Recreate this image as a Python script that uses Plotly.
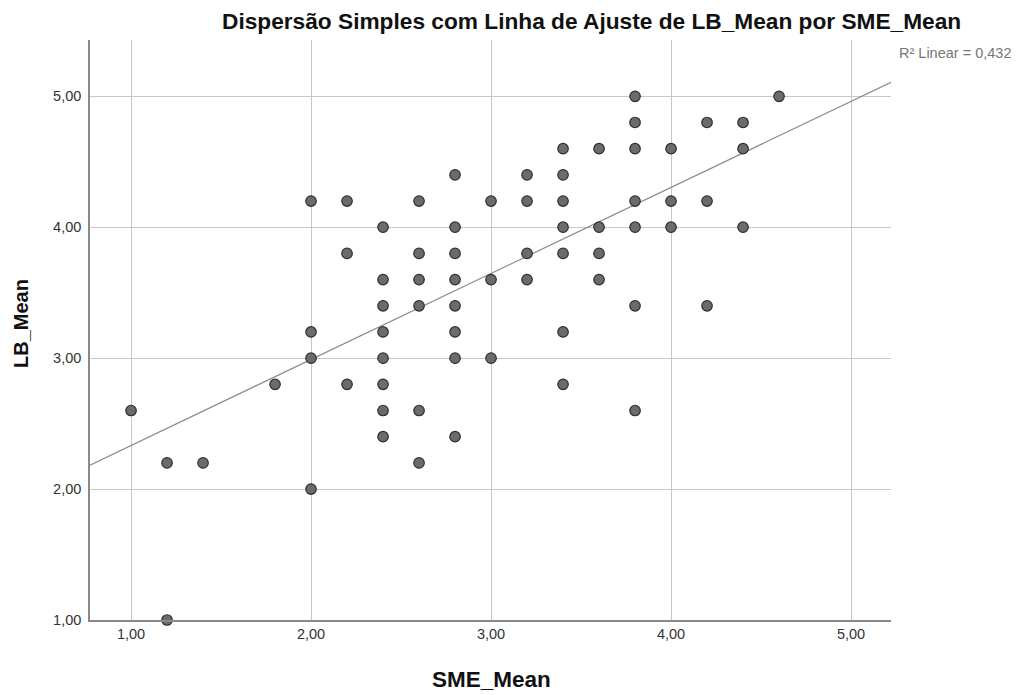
import plotly.graph_objects as go

# Data (SME_Mean, LB_Mean)
sme_mean = [1.0, 1.2, 1.2, 1.4, 1.8,
            2.0, 2.0, 2.0, 2.0,
            2.2, 2.2, 2.2,
            2.4, 2.4, 2.4, 2.4, 2.4, 2.4, 2.4, 2.4,
            2.6, 2.6, 2.6, 2.6, 2.6, 2.6,
            2.8, 2.8, 2.8, 2.8, 2.8, 2.8, 2.8, 2.8,
            3.0, 3.0, 3.0,
            3.2, 3.2, 3.2, 3.2,
            3.4, 3.4, 3.4, 3.4, 3.4, 3.4, 3.4,
            3.6, 3.6, 3.6, 3.6,
            3.8, 3.8, 3.8, 3.8, 3.8, 3.8, 3.8,
            4.0, 4.0, 4.0,
            4.2, 4.2, 4.2,
            4.4, 4.4, 4.4,
            4.6]
lb_mean = [2.6, 2.2, 1.0, 2.2, 2.8,
           4.2, 3.2, 3.0, 2.0,
           4.2, 3.8, 2.8,
           4.0, 3.6, 3.4, 3.2, 3.0, 2.8, 2.6, 2.4,
           4.2, 3.8, 3.6, 3.4, 2.6, 2.2,
           4.4, 4.0, 3.8, 3.6, 3.4, 3.2, 3.0, 2.4,
           4.2, 3.6, 3.0,
           4.4, 4.2, 3.8, 3.6,
           4.6, 4.4, 4.2, 4.0, 3.8, 3.2, 2.8,
           4.6, 4.0, 3.8, 3.6,
           5.0, 4.8, 4.6, 4.2, 4.0, 3.4, 2.6,
           4.6, 4.2, 4.0,
           4.8, 4.2, 3.4,
           4.8, 4.6, 4.0,
           5.0]

# Fit line as shown in the reference
fit_intercept = 1.676
fit_slope = 0.657
r2_text = "R² Linear = 0,432"

x_range = [0.772, 5.222]
y_range = [1.0, 5.43]
tick_vals = [1, 2, 3, 4, 5]
tick_text = ["1,00", "2,00", "3,00", "4,00", "5,00"]

fit_x = x_range
fit_y = [fit_intercept + fit_slope * v for v in fit_x]

# page body has an 8px margin; figure is sized/positioned to compensate
OFF = 8
W, H = 1022 - OFF, 695 - OFF
L, R, T, B = 90, 891, 40, 620  # plot area in window pixels
ml, mr, mt, mb = L - OFF, (W + OFF) - R, T - OFF, (H + OFF) - B
pw, ph = R - L, B - T


def px_to_paper_x(px):
    return (px - L) / pw


def px_to_paper_y(py):
    return (B - py) / ph


fig = go.Figure()
fig.add_trace(go.Scatter(
    x=fit_x, y=fit_y, mode="lines",
    line=dict(color="#8c8c8c", width=1.2),
    hoverinfo="skip", showlegend=False))
fig.add_trace(go.Scatter(
    x=sme_mean, y=lb_mean, mode="markers",
    marker=dict(size=10.5, color="#6b6b6b", line=dict(color="#2e2e2e", width=1.2)),
    showlegend=False, cliponaxis=False))

font_family = "Liberation Sans, Arial, sans-serif"

fig.update_layout(
    width=W, height=H,
    margin=dict(l=ml, r=mr, t=mt, b=mb, pad=0),
    paper_bgcolor="white", plot_bgcolor="white",
    font=dict(family=font_family, color="#222222"),
    xaxis=dict(range=x_range, tickvals=tick_vals, ticktext=tick_text,
               showgrid=True, gridcolor="#c8c8c8", gridwidth=1,
               zeroline=False, showline=True, linecolor="#8a8a8a", linewidth=1.5,
               ticks="", ticklen=0, tickfont=dict(size=14.5, color="#333333")),
    yaxis=dict(range=y_range, tickvals=tick_vals, ticktext=tick_text,
               showgrid=True, gridcolor="#c8c8c8", gridwidth=1,
               zeroline=False, showline=True, linecolor="#8a8a8a", linewidth=1.5,
               ticks="", ticklen=0, ticklabelstandoff=4,
               tickfont=dict(size=14.5, color="#333333")),
    annotations=[
        dict(text="<b>Dispersão Simples com Linha de Ajuste de LB_Mean por SME_Mean</b>",
             xref="paper", yref="paper", x=px_to_paper_x(591), y=px_to_paper_y(21),
             xanchor="center", yanchor="middle", showarrow=False,
             font=dict(size=22.7, color="#111111", family=font_family)),
        dict(text=r2_text, xref="paper", yref="paper",
             x=px_to_paper_x(897), y=px_to_paper_y(53),
             xanchor="left", yanchor="middle", showarrow=False,
             font=dict(size=14.5, color="#777777", family=font_family)),
        dict(text="<b>SME_Mean</b>", xref="paper", yref="paper",
             x=px_to_paper_x(491), y=px_to_paper_y(679),
             xanchor="center", yanchor="middle", showarrow=False,
             font=dict(size=22.5, color="#111111", family=font_family)),
        dict(text="<b>LB_Mean</b>", xref="paper", yref="paper",
             x=px_to_paper_x(21), y=px_to_paper_y(324), textangle=-90,
             xanchor="center", yanchor="middle", showarrow=False,
             font=dict(size=20, color="#111111", family=font_family)),
    ],
)

fig.write_html("out.html")
